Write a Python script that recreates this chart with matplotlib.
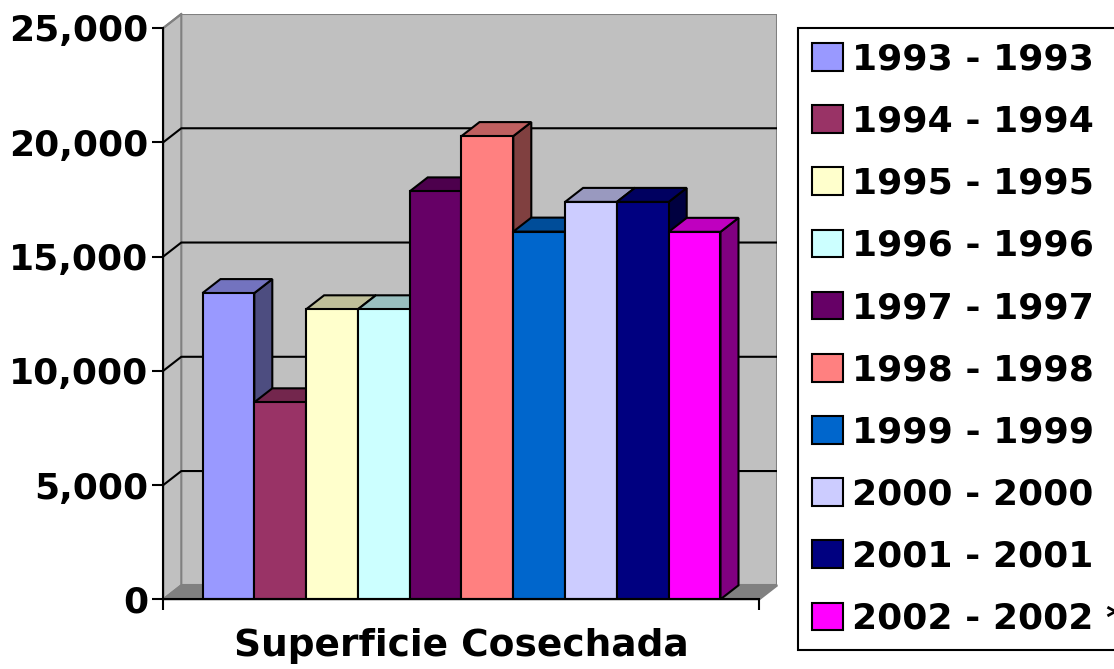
import matplotlib.pyplot as plt
from matplotlib.patches import Polygon
from matplotlib.ticker import FuncFormatter

plt.rcParams["font.family"] = 'DejaVu Sans'
plt.rcParams["font.weight"] = 'bold'

years = ['1993 - 1993', '1994 - 1994', '1995 - 1995', '1996 - 1996', '1997 - 1997',
         '1998 - 1998', '1999 - 1999', '2000 - 2000', '2001 - 2001', '2002 - 2002 *']
superficie = [13400, 8620, 12690, 12690, 17850, 20270, 16090, 17390, 17390, 16080]
colors = ['#9999FF', '#993366', '#FFFFCC', '#CCFFFF', '#660066',
          '#FF8080', '#0066CC', '#CCCCFF', '#000080', '#FF00FF']
yticks = [0, 5000, 10000, 15000, 20000, 25000]
xlabel = 'Superficie Cosechada'

def shade(c, f):
    c = c.lstrip('#')
    r, g, b = (int(c[i:i + 2], 16) for i in (0, 2, 4))
    return (r * f / 255, g * f / 255, b * f / 255)

W, H = 1114, 669
fig = plt.figure(figsize=(W / 100, H / 100), dpi=100)
# axes box = front-left axis to back wall right edge, floor to back wall top
ax = fig.add_axes([163.3 / W, 1 - 599.3 / H, (777.3 - 163.3) / W, (599.3 - 14) / H])

PX = 51.8              # pixels per bar width
XFRONT = (759.3 - 163.3) / PX
DX = 18 / PX           # depth offset in x units
DY = 14 / 114.3 * 5000 # depth offset in value units
XMAX = XFRONT + DX
YTOP = 25000
ax.set_xlim(0, XMAX)
ax.set_ylim(0, YTOP + DY)

wall = '#C0C0C0'
edge = '#808080'
# back wall, left wall, floor
ax.add_patch(Polygon([(DX, DY), (XMAX, DY), (XMAX, YTOP + DY), (DX, YTOP + DY)],
                     facecolor=wall, edgecolor=edge, lw=1.5, zorder=0))
ax.add_patch(Polygon([(0, 0), (DX, DY), (DX, YTOP + DY), (0, YTOP)],
                     facecolor=wall, edgecolor=edge, lw=1.5, zorder=0, clip_on=False))
ax.add_patch(Polygon([(0, 0), (DX, DY), (XMAX, DY), (XFRONT, 0)],
                     facecolor=edge, edgecolor=edge, lw=1.5, zorder=0.5, clip_on=False))

# gridlines on the walls
for v in yticks[1:-1]:
    ax.plot([0, DX, XMAX], [v, v + DY, v + DY], color='black', lw=1.5, zorder=1)
ax.plot([0, DX], [YTOP, YTOP + DY], color=edge, lw=1.5, zorder=1, clip_on=False)

left0 = (202.5 - 163.3) / PX
lefts = [left0 + i for i in range(len(superficie))]
bars = ax.bar(lefts, superficie, width=1.0, align='edge', color=colors,
              edgecolor='black', linewidth=1.5)
for i, (b, x, v, c) in enumerate(zip(bars, lefts, superficie, colors)):
    z = 3 + 3 * i
    ax.add_patch(Polygon([(x + 1, 0), (x + 1 + DX, DY), (x + 1 + DX, v + DY), (x + 1, v)],
                         facecolor=shade(c, 0.5), edgecolor='black', lw=1.5, zorder=z))
    ax.add_patch(Polygon([(x, v), (x + DX, v + DY), (x + 1 + DX, v + DY), (x + 1, v)],
                         facecolor=shade(c, 0.75), edgecolor='black', lw=1.5, zorder=z + 1))
    b.set_zorder(z + 2)

for s in ['top', 'right']:
    ax.spines[s].set_visible(False)
ax.spines['left'].set_bounds(0, YTOP)
ax.spines['bottom'].set_bounds(0, XFRONT)
for s in ['left', 'bottom']:
    ax.spines[s].set_linewidth(1.5)
    ax.spines[s].set_zorder(50)
ax.set_yticks(yticks)
ax.yaxis.set_major_formatter(FuncFormatter(lambda v, p: f'{int(v):,}'))
ax.set_xticks([0, XFRONT])
ax.set_xticklabels([])
ax.tick_params(axis='both', direction='out', length=8, width=1.5)
ax.tick_params(axis='y', labelsize=26, pad=3)
for t in ax.get_yticklabels():
    t.set_fontweight('bold')

ax.set_xlabel(xlabel, fontsize=27, fontweight='bold')
ax.xaxis.set_label_coords((461 - 163.3) / (777.3 - 163.3), (599.3 - 628) / (599.3 - 14))

leg = fig.legend(handles=list(bars), labels=years, loc='upper left',
                 bbox_to_anchor=(798 / W, 1 - 28 / H), frameon=True, fancybox=False,
                 framealpha=1, fontsize=26, handlelength=0.85, handleheight=0.8,
                 handletextpad=0.25, labelspacing=0.78, borderpad=0.4, borderaxespad=0)
leg.get_frame().set_edgecolor('black')
leg.get_frame().set_linewidth(1.5)
for t in leg.get_texts():
    t.set_fontweight('bold')

plt.savefig('out.png', dpi=100)
